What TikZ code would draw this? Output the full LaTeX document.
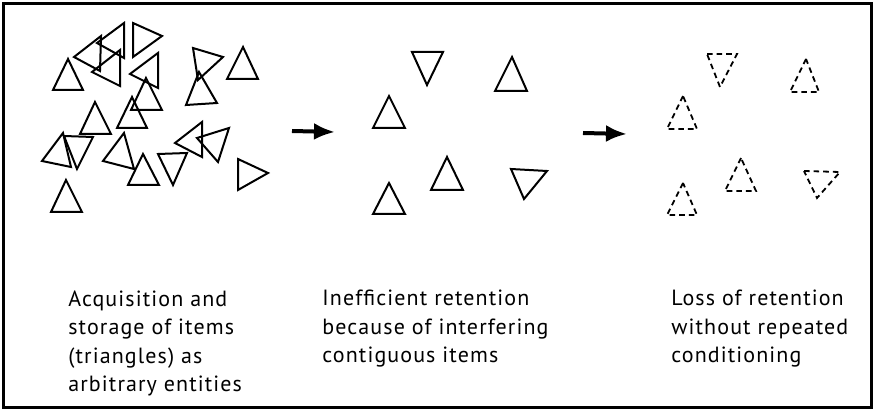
\documentclass[tikz,border=0pt]{standalone}
\usepackage{fontspec}
\setmainfont[LetterSpace=5]{PT Sans}
\usepackage{tikz}
\usetikzlibrary{arrows.meta,positioning}

\tikzset{
  item/.style={draw=black, line width=1pt, line join=miter},
  faded/.style={draw=black, line width=0.9pt, dash pattern=on 2.8pt off 2pt},
  caption/.style={anchor=north west, inner sep=0pt, align=left,
    font=\fontsize{11}{14.25}\selectfont},
  flow/.style={line width=2pt, -{Latex[length=10.5pt, width=8.5pt]}}
}

\begin{document}
\begin{tikzpicture}[x=0.5pt, y=-0.5pt]
  \useasboundingbox (0,0) rectangle (878,411);
  \draw[line width=1.5pt] (3.5,3.5) rectangle (871.5,407);

  % acquisition: a heap of items
  \draw[item] (68,59) -- (53,90) -- (83,90) -- cycle;
  \draw[item] (133,23) -- (133,57) -- (162,36) -- cycle;
  \draw[item] (74,57) -- (101,36) -- (100,71) -- cycle;
  \draw[item] (124,23) -- (124,58) -- (97,43) -- cycle;
  \draw[item] (92,72) -- (120,50) -- (120,86) -- cycle;
  \draw[item] (130,74) -- (158,53) -- (158,88) -- cycle;
  \draw[item] (146,78) -- (131,110) -- (162,110) -- cycle;
  \draw[item] (132,97) -- (117,128) -- (147,128) -- cycle;
  \draw[item] (95,102) -- (80,134) -- (111,134) -- cycle;
  \draw[item] (193,48) -- (223,57) -- (198,80) -- cycle;
  \draw[item] (199,72) -- (186,105) -- (217,103) -- cycle;
  \draw[item] (243,47) -- (227,79) -- (258,79) -- cycle;
  \draw[item] (63,133) -- (42,161) -- (71,167) -- cycle;
  \draw[item] (64,136) -- (93,137) -- (77,169) -- cycle;
  \draw[item] (124,133) -- (103,161) -- (134,169) -- cycle;
  \draw[item] (143,154) -- (128,185) -- (159,185) -- cycle;
  \draw[item] (158,154) -- (187,153) -- (173,185) -- cycle;
  \draw[item] (175,143) -- (202,122) -- (202,157) -- cycle;
  \draw[item] (197,138) -- (229,128) -- (218,162) -- cycle;
  \draw[item] (238,159) -- (238,190) -- (268,173) -- cycle;
  \draw[item] (66,180) -- (51,212) -- (82,212) -- cycle;

  % retention: items spread out
  \draw[item] (412,52) -- (443,52) -- (427,85) -- cycle;
  \draw[item] (512,57) -- (495,91) -- (527,91) -- cycle;
  \draw[item] (389,96) -- (373,128) -- (405,128) -- cycle;
  \draw[item] (447,157) -- (431,190) -- (463,190) -- cycle;
  \draw[item] (511,169) -- (547,171) -- (524,199) -- cycle;
  \draw[item] (389,183) -- (373,214) -- (405,214) -- cycle;

  % loss: same items, dashed
  \draw[faded] (707,54) -- (737,54) -- (720,87) -- cycle;
  \draw[faded] (806,59) -- (790,92) -- (819,92) -- cycle;
  \draw[faded] (683,96) -- (667,129) -- (697,129) -- cycle;
  \draw[faded] (741,158) -- (725,191) -- (756,191) -- cycle;
  \draw[faded] (804,171) -- (840,172) -- (817,198) -- cycle;
  \draw[faded] (683,183) -- (667,215) -- (697,215) -- cycle;

  % arrows between stages
  \coordinate (a1) at (292,131);
  \coordinate (b1) at (335,132);
  \coordinate (a2) at (583,133);
  \coordinate (b2) at (627,134);
  \draw[flow] (a1) -- (b1);
  \draw[flow] (a2) -- (b2);

  % captions
  \node[caption] (acq) at (68,290) {Acquisition and\\storage of items\\(triangles) as\\arbitrary entities};
  \node[caption] (ret) at (322,290) {Inefficient retention\\because of interfering\\contiguous items};
  \node[caption] (loss) at (671,290) {Loss of retention\\without repeated\\conditioning};
\end{tikzpicture}
\end{document}
